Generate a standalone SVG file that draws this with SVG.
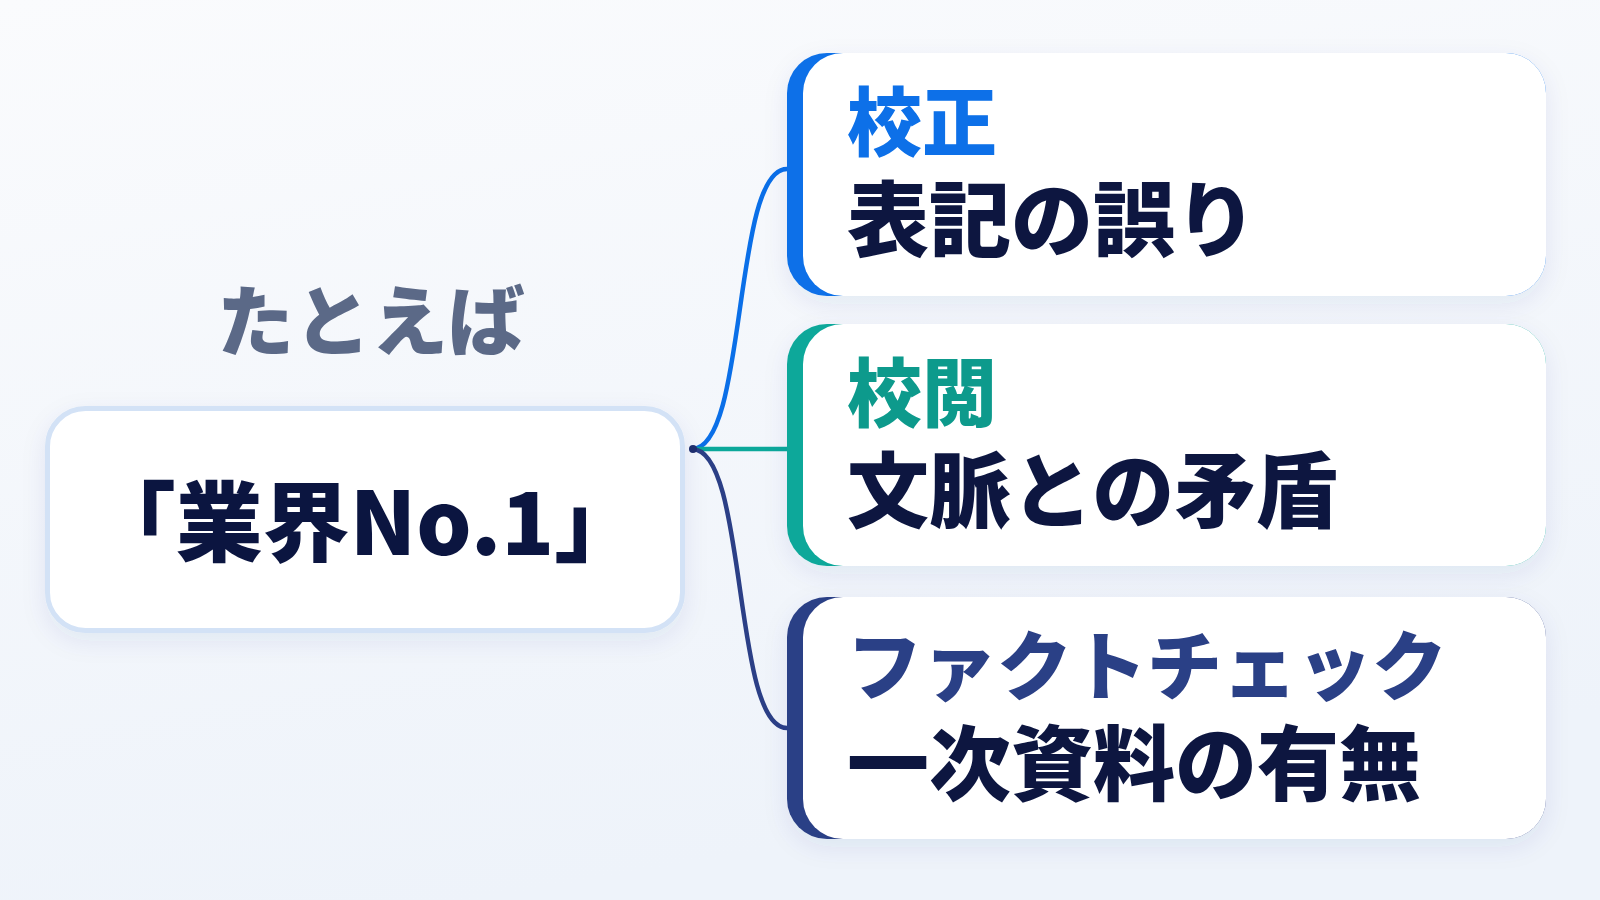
<svg xmlns="http://www.w3.org/2000/svg" width="1600" height="900" viewBox="0 0 1600 900">
  <defs>
    <linearGradient id="bg" x1="0" y1="0" x2="0.3" y2="1">
      <stop offset="0" stop-color="#fafbfd"/>
      <stop offset="1" stop-color="#eef3fa"/>
    </linearGradient>
    <filter id="shadow" x="-10%" y="-20%" width="120%" height="150%">
      <feDropShadow dx="0" dy="8" stdDeviation="12" flood-color="#1e3a8a" flood-opacity="0.08"/>
    </filter>
    <style>
      .jp { font-family: "Noto Sans CJK JP", "Noto Sans CJK SC", "Noto Sans", sans-serif; font-weight: 900; }
      .card { fill: #ffffff; }
      .title { font-size: 75px; }
      .body { font-size: 82px; fill: #0b1540; }
      .conn { fill: none; stroke-width: 4.5; stroke-linecap: round; }
    </style>
  </defs>
  <rect x="0" y="0" width="1600" height="900" fill="url(#bg)"/>

  <text class="jp" x="371" y="350" font-size="77" fill="#5b6987" text-anchor="middle">たとえば</text>

  <g id="connectors">
    <path class="conn" d="M692 449 C748 449 732 169 787 169" stroke="#0a6fe8"/>
    <path class="conn" d="M692 449 L787 449" stroke="#0ba89a"/>
    <path class="conn" d="M692 449 C748 449 732 728 787 728" stroke="#2b3f86"/>
    <circle cx="693" cy="449" r="4" fill="#1f2f6e"/>
  </g>

  <g id="node-main">
    <rect x="47.5" y="408.5" width="635" height="222" rx="38" fill="#ffffff" stroke="#d3e2f6" stroke-width="5" filter="url(#shadow)"/>
    <text class="jp" x="365" y="555" font-size="87" fill="#0b1540" text-anchor="middle">「業界No.1」</text>
  </g>

  <g id="card-kousei" filter="url(#shadow)">
    <rect x="787" y="53" width="759" height="243" rx="40" fill="#0a6fe8"/>
    <rect class="card" x="803" y="53" width="743" height="243" rx="40"/>
    <text class="jp title" x="847" y="150" fill="#0a6fe8">校正</text>
    <text class="jp body" x="847" y="250">表記の誤り</text>
  </g>

  <g id="card-kouetsu" filter="url(#shadow)">
    <rect x="787" y="324" width="759" height="242" rx="40" fill="#0ba89a"/>
    <rect class="card" x="803" y="324" width="743" height="242" rx="40"/>
    <text class="jp title" x="847" y="421" fill="#0d9a8c">校閲</text>
    <text class="jp body" x="847" y="521">文脈との矛盾</text>
  </g>

  <g id="card-factcheck" filter="url(#shadow)">
    <rect x="787" y="597" width="759" height="242" rx="40" fill="#2b3f86"/>
    <rect class="card" x="803" y="597" width="743" height="242" rx="40"/>
    <text class="jp title" x="847" y="694" fill="#2b3f86">ファクトチェック</text>
    <text class="jp body" x="847" y="794">一次資料の有無</text>
  </g>
</svg>
